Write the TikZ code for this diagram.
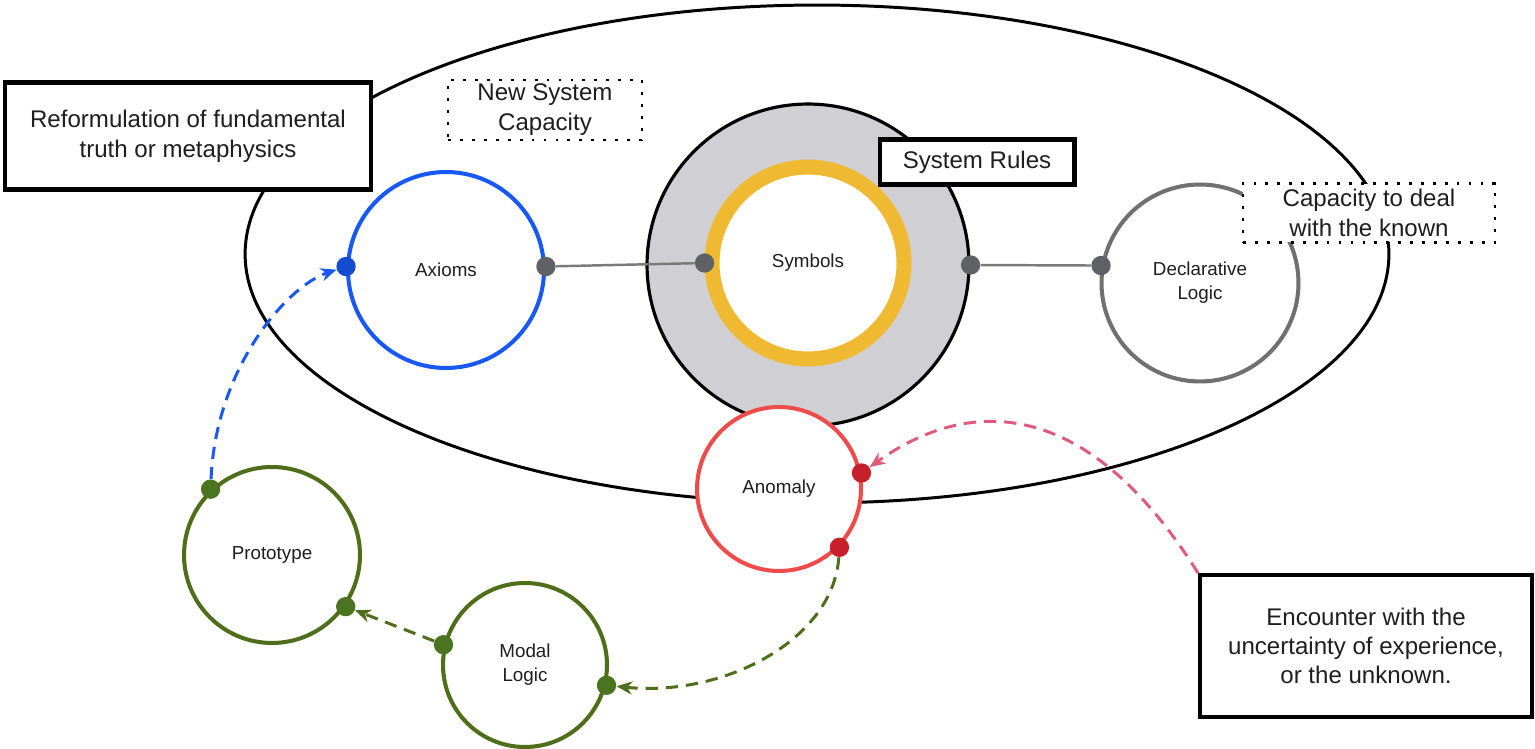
\documentclass[tikz,border=0pt]{standalone}
\usepackage{fontspec}
\setmainfont{Liberation Sans}
\usetikzlibrary{arrows.meta,shapes.geometric}

\definecolor{inkblack}{HTML}{1E1E1E}
\definecolor{rulegray}{HTML}{D0D0D4}
\definecolor{symyellow}{HTML}{F0B932}
\definecolor{axblue}{HTML}{1858F5}
\definecolor{anred}{HTML}{EE4B4B}
\definecolor{dotred}{HTML}{C8202A}
\definecolor{modgreen}{HTML}{4E6E1A}
\definecolor{dotgreen}{HTML}{4A7420}
\definecolor{declgray}{HTML}{707070}
\definecolor{dotgray}{HTML}{5F6164}
\definecolor{linkgray}{HTML}{7A7A7A}
\definecolor{pinkdash}{HTML}{E05A7D}

\begin{document}
\begin{tikzpicture}[x=0.02cm,y=-0.02cm,
  bigtext/.style={font=\fontsize{13.7}{17}\selectfont, text=inkblack, align=center},
  smalltext/.style={font=\fontsize{10.7}{13.6}\selectfont, text=inkblack, align=center},
  ringnode/.style={circle, draw=#1, line width=2.3pt, fill=white, inner sep=0pt, smalltext},
  solidbox/.style={draw=black, line width=2.3pt, fill=white, inner sep=0pt, bigtext},
  dotbox/.style={draw=black, line width=1.6pt, dash pattern=on 1.6pt off 5.2pt, fill=white, inner sep=0pt, bigtext},
  portdot/.style={circle, fill=#1, inner sep=0pt, minimum size=11pt},
  link/.style={draw=linkgray, line width=1.4pt},
  flow/.style={line width=1.7pt, dash pattern=on 7pt off 4.5pt, -{Stealth[length=9pt,width=7.5pt]}, draw=#1},
]
\useasboundingbox[fill=white] (0,0) rectangle (1535,749);

% the system: outer ellipse
\node[ellipse, draw=black, line width=1.7pt, minimum width=22.88cm, minimum height=9.96cm, inner sep=0pt] (system) at (817,254) {};

% system rules disc with the symbols ring
\node[circle, draw=black, line width=1.8pt, fill=rulegray, minimum size=6.44cm, inner sep=0pt] (rules) at (808,265) {};
\node[circle, draw=symyellow, line width=8.5pt, fill=white, minimum size=3.84cm, inner sep=0pt, smalltext] (symbols) at (808,263) {Symbols};

% the logic rings
\node[ringnode=axblue, minimum size=3.92cm] (axioms) at (446,270) {Axioms};
\node[ringnode=declgray, minimum size=3.94cm] (decl) at (1200,283) {Declarative\\Logic};
\node[ringnode=anred, minimum size=3.28cm] (anomaly) at (779,489) {Anomaly};
\node[ringnode=modgreen, minimum size=3.52cm] (proto) at (272,555) {Prototype};
\node[ringnode=modgreen, minimum size=3.28cm] (modal) at (525,665) {Modal\\Logic};

% text boxes
\node[solidbox, minimum width=7.34cm, minimum height=2.14cm] (reform) at (188,136) {Reformulation of fundamental\\truth or metaphysics};
\node[dotbox, minimum width=3.88cm, minimum height=1.2cm] (newcap) at (545,110) {New System\\Capacity};
\node[solidbox, minimum width=3.9cm, minimum height=0.9cm] (rulelabel) at (977,162) {System Rules};
\node[dotbox, minimum width=5.04cm, minimum height=1.18cm] (known) at (1369,213) {Capacity to deal\\with the known};
\node[solidbox, minimum width=6.64cm, minimum height=2.84cm, font=\fontsize{13.7}{16.4}\selectfont] (encounter) at (1366,646) {Encounter with the\\uncertainty of experience,\\or the unknown.};

% connection ports
\node[portdot=dotgray] (axR) at (axioms.2) {};
\node[portdot=axblue!85!black] (axL) at (axioms.178) {};
\node[portdot=dotgray] (symL) at (symbols.west) {};
\node[portdot=dotgray] (rulesR) at (rules.east) {};
\node[portdot=dotgray] (declL) at (decl.170) {};
\node[portdot=dotred] (anIn) at (anomaly.11) {};
\node[portdot=dotred] (anOut) at (anomaly.-44) {};
\node[portdot=dotgreen] (protoUp) at (proto.133) {};
\node[portdot=dotgreen] (protoIn) at (proto.-35) {};
\node[portdot=dotgreen] (modalOut) at (modal.166) {};
\node[portdot=dotgreen] (modalIn) at (modal.-14) {};

% solid links
\draw[link] (axR) -- (symL);
\draw[link] (rulesR) -- (declL);

% dashed flows
\draw[flow=pinkdash] (encounter.north west) .. controls +(-135,-215) and +(70,-50) .. (anIn);
\draw[flow=modgreen] (anOut) .. controls +(-6,92) and +(118,12) .. (modalIn);
\draw[flow=modgreen] (modalOut) -- (protoIn);
\draw[flow=axblue] (protoUp) .. controls +(5,-120) and +(-60,20) .. (axL);
\end{tikzpicture}
\end{document}
